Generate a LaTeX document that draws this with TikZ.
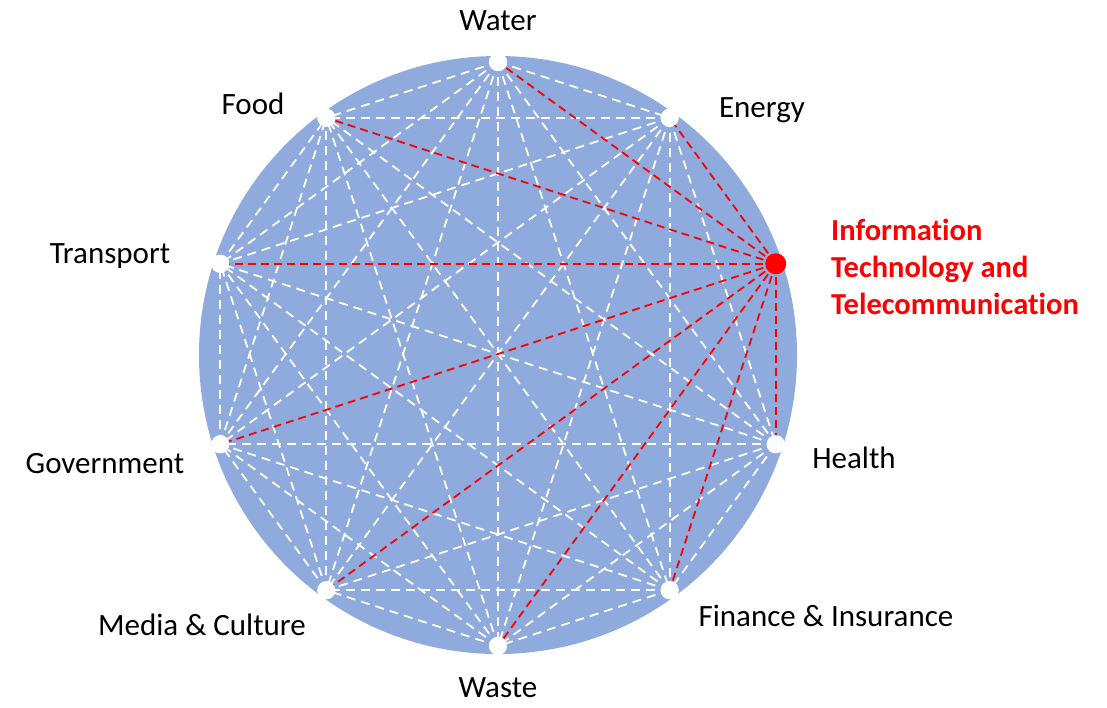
\documentclass[tikz,border=0pt]{standalone}
\usepackage{fontspec}
\setmainfont[Ligatures=NoCommon]{Carlito}
\definecolor{circblue}{HTML}{8FAADC}
\definecolor{itred}{HTML}{FF0000}
\begin{document}
\begin{tikzpicture}[x=1pt,y=-1pt,
  wlink/.style={draw=white,line width=1.8pt,dash pattern=on 9pt off 6pt},
  rlink/.style={draw=itred,line width=1.8pt,dash pattern=on 8pt off 5pt},
  wpt/.style={circle,fill=white,inner sep=0pt,minimum size=18pt},
  rpt/.style={circle,fill=itred,inner sep=0pt,minimum size=21pt},
  lab/.style={font=\fontsize{31}{36}\selectfont,text=black,inner sep=0pt},
  itlab/.style={font=\fontsize{30.5}{37}\selectfont\bfseries,text=itred,inner sep=0pt,align=left,anchor=west}]
\useasboundingbox (0,0) rectangle (1107,707);
\fill[circblue] (498,355) circle (299);
\foreach \i/\a in {0/90,1/54,2/18,3/-18,4/-54,5/-90,6/-126,7/-162,8/162,9/126}
  \coordinate (c\i) at ({498+292*cos(\a)},{354-292*sin(\a)});
\foreach \i in {0,...,9}
  \node[wpt] (p\i) at (c\i) {};
\foreach \i in {0,...,9}{
  \foreach \j in {0,...,9}{
    \ifnum\i<\j
      \ifnum\i=2 \else\ifnum\j=2 \else
        \draw[wlink] (p\i.center) -- (p\j.center);
      \fi\fi
    \fi}}
\foreach \j in {0,1,3,4,5,6,7,8,9}
  \draw[rlink] (c2) -- (p\j.center);
\foreach \i in {0,1,3,4,5,6,7,8,9}
  \node[wpt] at (c\i) {};
\node[rpt] (itdot) at (c2) {};
\node[lab] (lwat) at (498,21) {Water};
\node[lab] (lene) at (762,110) {Energy};
\node[lab] (lfoo) at (253,104) {Food};
\node[lab] (ltra) at (110,256) {Transport};
\node[lab] (lhea) at (854,458) {Health};
\node[lab] (lgov) at (105,464) {Government};
\node[lab] (lfin) at (826,616) {Finance \& Insurance};
\node[lab] (lmed) at (202,625) {Media \& Culture};
\node[lab,text depth=0pt,anchor=south] (lwas) at (498,698) {Waste};
\node[itlab] (lit) at (831,267) {Information\\Technology and\\Telecommunication};
\end{tikzpicture}
\end{document}
